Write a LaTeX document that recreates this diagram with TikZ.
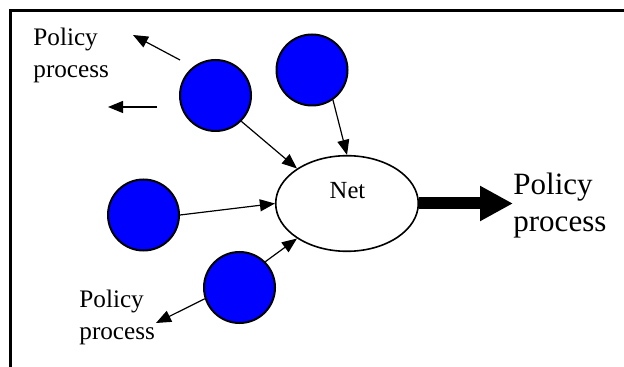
\documentclass[tikz,border=0pt]{standalone}
\usepackage{fontspec}
\setmainfont{Liberation Serif}
\usetikzlibrary{arrows.meta,shapes.geometric}
\definecolor{dotblue}{RGB}{0,0,255}
\begin{document}
\begin{tikzpicture}[x=0.5pt,y=-0.5pt,
  dot/.style={circle,draw=black,line width=1pt,fill=dotblue,minimum size=35.5pt,inner sep=0pt},
  netshape/.style={ellipse,draw=black,line width=0.8pt,fill=white,minimum width=71.3pt,minimum height=47.8pt,inner sep=0pt},
  conn/.style={line width=0.6pt,-{Triangle[length=7.5pt,width=6pt]}},
  bigconn/.style={line width=6pt,-{Triangle[length=16.5pt,width=16.5pt]}},
  smalllbl/.style={inner sep=0pt,align=left,font=\fontsize{12.6}{15.6}\selectfont},
  biglbl/.style={inner sep=0pt,align=left,font=\fontsize{15.5}{18.5}\selectfont},
  frameline/.style={line width=1.1pt}]
\useasboundingbox (0,0) rectangle (624,367);
\draw[frameline] (10.5,367) -- (10.5,10.5) -- (624,10.5);

\node[dot] (A) at (215.5,95.5) {};
\node[dot] (B) at (312,70) {};
\node[dot] (C) at (143.5,215) {};
\node[dot] (D) at (239.5,287.5) {};
\node[netshape] (Net) at (347,203.5) {};
\node[inner sep=0pt,anchor=base,font=\fontsize{12.3}{14}\selectfont] (netlbl) at (347.5,198.5) {Net};

\node[smalllbl,anchor=north west] (lblA) at (33,28) {Policy\\process};
\node[smalllbl,anchor=north west] (lblD) at (79,290) {Policy\\process};
\node[biglbl,anchor=north west] (lblR) at (513,173) {Policy\\process};

\coordinate (a1s) at (180,60);
\coordinate (a1e) at (133,35);
\coordinate (a2s) at (157,107);
\coordinate (a2e) at (108,107);
\coordinate (d1e) at (156,323);
\coordinate (bigend) at (513,203.5);

\draw[conn] (a1s) -- (a1e);
\draw[conn] (a2s) -- (a2e);
\draw[conn] (A.-45) -- (Net.145);
\draw[conn] (B.-55) -- (Net.north);
\draw[conn] (C.east) -- (Net.west);
\draw[conn] (D.45) -- (Net.215);
\draw[conn] (D.198) -- (d1e);
\draw[bigconn] (Net.east) -- (bigend);
\end{tikzpicture}
\end{document}
